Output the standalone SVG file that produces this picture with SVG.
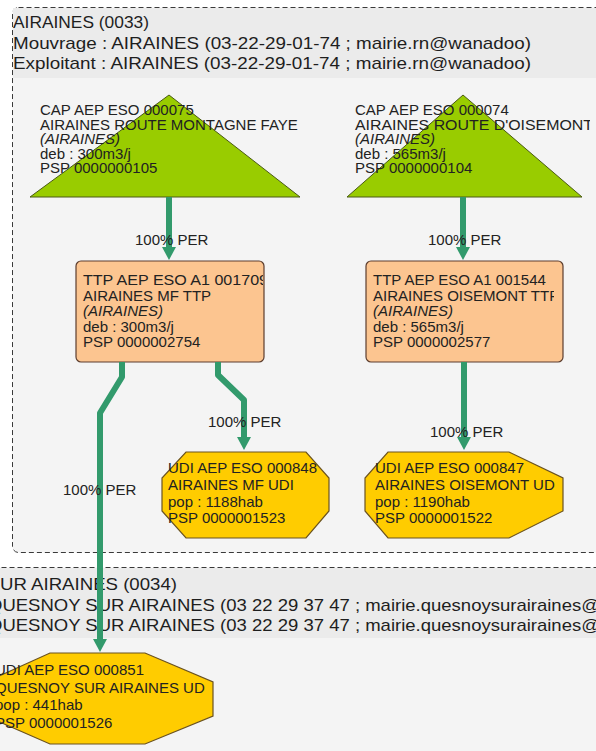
<svg xmlns="http://www.w3.org/2000/svg" width="596" height="751" viewBox="0 0 596 751">
  <style>
    .cl { fill: #f4f4f4; stroke: #3a3a3a; stroke-width: 1; stroke-dasharray: 5 3; }
    .band { fill: #ebebeb; }
    .hd { font-family: "Liberation Sans", Arial, sans-serif; font-size: 17px; fill: #1e1e1e; }
    .t { font-family: "Liberation Sans", Arial, sans-serif; font-size: 15px; fill: #222; }
    .it { font-style: italic; }
    .cap { fill: #99cc00; stroke: #4a5a14; stroke-width: 1; }
    .ttp { fill: #fcc590; stroke: #5c3d2e; stroke-width: 1.2; }
    .udi { fill: #ffcc00; stroke: #6a5220; stroke-width: 1.2; }
    .e { fill: none; stroke: #329a6c; stroke-width: 6; stroke-linejoin: round; marker-end: url(#ah); }
    .lbl { font-family: "Liberation Sans", Arial, sans-serif; font-size: 15px; fill: #222; }
  </style>
  <defs>
    <marker id="ah" viewBox="0 0 13 14" refX="1" refY="7" markerWidth="13" markerHeight="14" markerUnits="userSpaceOnUse" orient="auto">
      <path d="M0,0 L13,7 L0,14 z" fill="#329a6c"/>
    </marker>
    <clipPath id="clip-ttp1"><rect x="76" y="261" width="187" height="101"/></clipPath>
    <clipPath id="clip-ttp2"><rect x="366" y="261" width="188" height="101"/></clipPath>
    <clipPath id="clip-cap2"><rect x="300" y="90" width="290" height="110"/></clipPath>
  </defs>

  <rect width="596" height="751" fill="#ffffff"/>

  <!-- commune clusters -->
  <g id="cluster-0033">
    <rect class="cl" x="12.5" y="7.5" width="620" height="545" rx="6"/>
    <rect class="band" x="13" y="8" width="600" height="70"/>
    <text class="hd" x="13" y="28" textLength="136" lengthAdjust="spacingAndGlyphs">AIRAINES (0033)</text>
    <text class="hd" x="13" y="48.5" textLength="518" lengthAdjust="spacingAndGlyphs">Mouvrage : AIRAINES (03-22-29-01-74 ; mairie.rn@wanadoo)</text>
    <text class="hd" x="13" y="69" textLength="518" lengthAdjust="spacingAndGlyphs">Exploitant : AIRAINES (03-22-29-01-74 ; mairie.rn@wanadoo)</text>
  </g>
  <g id="cluster-0034">
    <rect class="cl" x="-20.5" y="567.5" width="640" height="200" rx="6"/>
    <rect class="band" x="-20" y="568" width="640" height="70"/>
    <text class="hd" x="0" y="590" textLength="177" lengthAdjust="spacingAndGlyphs">UR AIRAINES (0034)</text>
    <text class="hd" x="-12" y="610.5" textLength="612" lengthAdjust="spacingAndGlyphs">QUESNOY SUR AIRAINES (03 22 29 37 47 ; mairie.quesnoysurairaines@</text>
    <text class="hd" x="-12" y="631" textLength="612" lengthAdjust="spacingAndGlyphs">QUESNOY SUR AIRAINES (03 22 29 37 47 ; mairie.quesnoysurairaines@</text>
  </g>

  <!-- captages -->
  <g id="cap-000075">
    <polygon class="cap" points="169,95 30,197 300,197"/>
    <text class="t" x="40" y="115">CAP AEP ESO 000075</text>
    <text class="t" x="40" y="129.5">AIRAINES ROUTE MONTAGNE FAYE</text>
    <text class="t it" x="40" y="144">(AIRAINES)</text>
    <text class="t" x="40" y="158.5">deb : 300m3/j</text>
    <text class="t" x="40" y="173">PSP 0000000105</text>
  </g>
  <g id="cap-000074">
    <polygon class="cap" points="463,95 347,197 582,197"/>
    <text class="t" x="355" y="115">CAP AEP ESO 000074</text>
    <text class="t" x="355" y="129.5" textLength="238" lengthAdjust="spacingAndGlyphs" clip-path="url(#clip-cap2)">AIRAINES ROUTE D'OISEMONT</text>
    <text class="t it" x="355" y="144">(AIRAINES)</text>
    <text class="t" x="355" y="158.5">deb : 565m3/j</text>
    <text class="t" x="355" y="173">PSP 0000000104</text>
  </g>

  <!-- treatment stations -->
  <g id="ttp-001709">
    <rect class="ttp" x="76" y="261" width="188" height="101" rx="5"/>
    <text class="t" x="83" y="285" textLength="185" lengthAdjust="spacingAndGlyphs" clip-path="url(#clip-ttp1)">TTP AEP ESO A1 001709</text>
    <text class="t" x="83" y="300.5">AIRAINES MF TTP</text>
    <text class="t it" x="83" y="316">(AIRAINES)</text>
    <text class="t" x="83" y="331.5">deb : 300m3/j</text>
    <text class="t" x="83" y="347">PSP 0000002754</text>
  </g>
  <g id="ttp-001544">
    <rect class="ttp" x="366" y="261" width="197" height="101" rx="5"/>
    <text class="t" x="373" y="285">TTP AEP ESO A1 001544</text>
    <text class="t" x="373" y="300.5" clip-path="url(#clip-ttp2)">AIRAINES OISEMONT TTP</text>
    <text class="t it" x="373" y="316">(AIRAINES)</text>
    <text class="t" x="373" y="331.5">deb : 565m3/j</text>
    <text class="t" x="373" y="347">PSP 0000002577</text>
  </g>

  <!-- distribution units -->
  <g id="udi-000848">
    <polygon class="udi" points="186,452 306,452 329,478 329,511 306,538 186,538 162,511 162,478"/>
    <text class="t" x="168" y="473">UDI AEP ESO 000848</text>
    <text class="t" x="168" y="490">AIRAINES MF UDI</text>
    <text class="t" x="168" y="506.5">pop : 1188hab</text>
    <text class="t" x="168" y="523">PSP 0000001523</text>
  </g>
  <g id="udi-000847">
    <polygon class="udi" points="388,452 509,452 563,478 563,511 509,538 388,538 365,511 365,478"/>
    <text class="t" x="375" y="473">UDI AEP ESO 000847</text>
    <text class="t" x="375" y="490">AIRAINES OISEMONT UD</text>
    <text class="t" x="375" y="506.5">pop : 1190hab</text>
    <text class="t" x="375" y="523">PSP 0000001522</text>
  </g>
  <g id="udi-000851">
    <polygon class="udi" points="50,653 145,653 213,682 213,716 145,744 50,744 -14,716 -14,682"/>
    <text class="t" x="-5" y="675">UDI AEP ESO 000851</text>
    <text class="t" x="-5" y="692.5">QUESNOY SUR AIRAINES UD</text>
    <text class="t" x="-5" y="710">pop : 441hab</text>
    <text class="t" x="-5" y="727.5">PSP 0000001526</text>
  </g>

  <!-- flows -->
  <g id="edges">
    <path class="e" d="M169,197 V248"/>
    <path class="e" d="M463,197 V248"/>
    <path class="e" d="M218,362 V375 L244,400 V438"/>
    <path class="e" d="M464,362 V438"/>
    <path class="e" d="M122,362 V377 L100,413 V640"/>
    <text class="lbl" x="135" y="245">100% PER</text>
    <text class="lbl" x="428" y="245">100% PER</text>
    <text class="lbl" x="208" y="427">100% PER</text>
    <text class="lbl" x="430" y="437">100% PER</text>
    <text class="lbl" x="63" y="495">100% PER</text>
  </g>
</svg>
